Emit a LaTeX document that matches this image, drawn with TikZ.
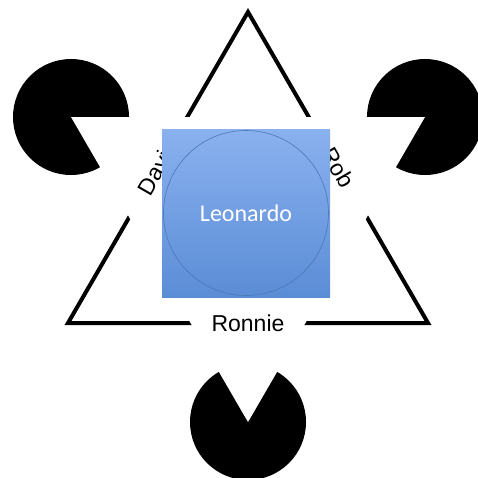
\documentclass[tikz,border=0pt]{standalone}
\usepackage{fontspec}
\setmainfont{Liberation Sans}
\newfontfamily\leofont{Carlito}
\definecolor{boxtop}{HTML}{8AB1EF}
\definecolor{boxmid}{HTML}{9AC0FD}
\definecolor{boxbot}{HTML}{5B8DD6}
\definecolor{discline}{HTML}{4A78B8}

\begin{document}
\begin{tikzpicture}[x=1pt, y=-1pt, thick,
    edge/.style={line width=4pt, line join=miter},
    lbl/.style={font=\fontsize{23}{27}\selectfont, inner sep=0pt},
    box/.style={minimum size=168pt, inner sep=0pt, top color=boxtop, middle color=boxmid, bottom color=boxbot},
    disc/.style={circle, minimum size=165pt, inner sep=0pt, draw=discline, line width=0.6pt,
        top color=boxtop, middle color=boxmid, bottom color=boxbot, text=white,
        font=\leofont\fontsize{24}{28}\selectfont}]
    \useasboundingbox (0,0) rectangle (478,477);
    % outer triangle
    \coordinate (top) at (248,12);
    \coordinate (left) at (68,323);
    \coordinate (right) at (428,323);
    \draw[edge] (top) -- (left) -- (right) -- cycle;
    % pacmen
    \coordinate (p1) at (71,117);
    \coordinate (p2) at (425,117);
    \coordinate (p3) at (248,422);
    \foreach \p in {p1,p2,p3}
        \fill (\p) circle (58);
    % white triangle on top
    \fill[white] (p1) -- (p2) -- (p3) -- cycle;
    % side labels
    \path (top) -- (left) node[lbl, midway, sloped] (dav) {David};
    \path (top) -- (right) node[lbl, midway, sloped] (rob) {Rob};
    \path (left) -- (right) node[lbl, midway] (ron) {Ronnie};
    % centre box
    \node[box] (sq) at (246,213) {};
    \node[disc] (leo) at (sq.center) {Leonardo};
\end{tikzpicture}
\end{document}
